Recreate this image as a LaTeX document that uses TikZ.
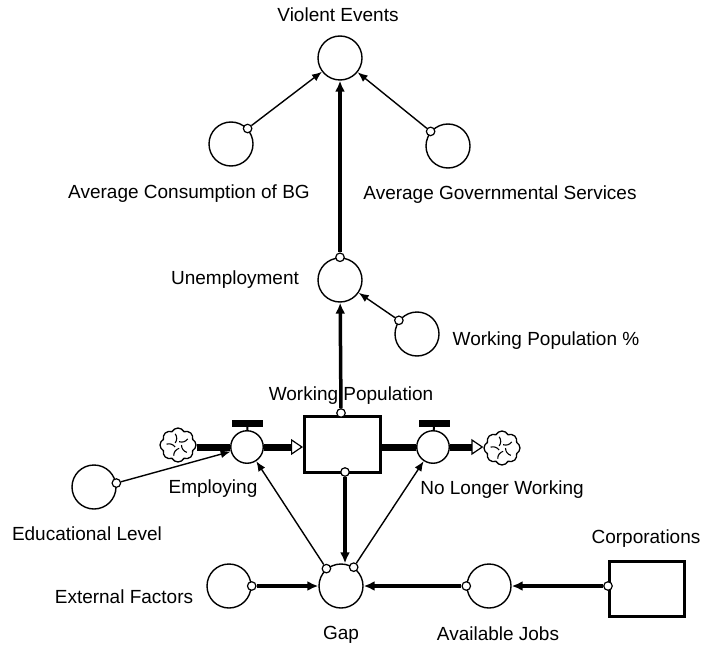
\documentclass[tikz,border=0pt]{standalone}
\usepackage{fontspec}
\setmainfont{Liberation Sans}
\usetikzlibrary{arrows.meta,shapes.symbols,calc}
\begin{document}
\begin{tikzpicture}[x=1pt,y=-1pt,
  conv/.style={circle,draw,line width=1.4pt,minimum size=44pt,inner sep=0pt},
  valvec/.style={circle,draw,line width=1.4pt,minimum size=32.5pt,inner sep=0pt,fill=white},
  valvebar/.style={fill=black,minimum width=31pt,minimum height=7pt,inner sep=0pt},
  stockbox/.style={draw,line width=3pt,inner sep=0pt,fill=white},
  lbl/.style={font=\fontsize{19}{23}\selectfont,anchor=base,inner sep=0pt},
  portc/.style={circle,draw,line width=1.2pt,fill=white,minimum size=8.5pt,inner sep=0pt},
  infolink/.style={line width=1.4pt,-{Latex[length=10pt,width=8pt]}},
  tlink/.style={line width=3.5pt,-{Latex[length=11pt,width=10pt]}},
  pipeline/.style={line width=7pt},
  pipearrow/.style={line width=7pt,-{Triangle[open,length=12pt,width=16pt,line width=1.2pt]}},
  cloudn/.style={cloud,cloud puffs=8,cloud puff arc=125,aspect=1,draw,line width=1.3pt,minimum width=36pt,minimum height=34pt,inner sep=0pt,fill=white},
]
\useasboundingbox (0,0) rectangle (706,647);

% converters
\node[conv] (ve) at (340,58) {};
\node[conv] (ac) at (231,144) {};
\node[conv] (ag) at (448,146) {};
\node[conv] (un) at (340,280) {};
\node[conv] (wpp) at (417,334) {};
\node[conv] (edu) at (94,487) {};
\node[conv] (ex) at (229,586) {};
\node[conv] (gap) at (341,586) {};
\node[conv] (aj) at (489,586) {};

% stocks
\node[stockbox,minimum width=76pt,minimum height=56pt] (wp) at (342.5,444.5) {};
\node[stockbox,minimum width=75pt,minimum height=55pt] (corp) at (647,589) {};

% clouds
\node[cloudn] (cl) at (178,445) {};
\node[cloudn] (cr) at (502,448) {};
\foreach \c in {cl,cr}{
  \foreach \a in {0,72,...,288}{
    \draw[line width=1.1pt] ($(\c)+(\a:3.5)$) to[bend right=35] ($(\c)+(\a+40:11.5)$);
  }
}

% valves
\node[valvec] (empv) at (247,447) {};
\node[valvec] (nlwv) at (433,447) {};
\node[valvebar] (empb) at (247.5,423) {};
\node[valvebar] (nlwb) at (434,423.5) {};
\draw[line width=2pt] (empb) -- (empv);
\draw[line width=2pt] (nlwb) -- (nlwv);

% pipes
\draw[pipeline] (empv.west -| cl.east) -- (empv.west);
\draw[pipearrow] (empv.east) -- (empv.east -| wp.west);
\draw[pipeline] (nlwv.west -| wp.east) -- (nlwv.west);
\draw[pipearrow] (nlwv.east) -- (nlwv.east -| cr.west);

% ports
\node[portc] (acp) at (ac.43) {};
\node[portc] (agp) at (ag.140) {};
\node[portc] (unp) at (un.90) {};
\node[portc] (wppp) at (wpp.143) {};
\node[portc] (edup) at (edu.10) {};
\node[portc] (wpt) at ([xshift=-1.5pt,yshift=2pt]wp.north) {};
\node[portc] (wpb) at ([xshift=2.5pt,yshift=2pt]wp.south) {};
\node[portc] (gapl) at (gap.130) {};
\node[portc] (gapr) at (gap.56) {};
\node[portc] (exp) at (ex.east) {};
\node[portc] (ajp) at (aj.west) {};
\node[portc] (corpp) at ([yshift=3pt]corp.west) {};

% connectors
\draw[infolink] (acp) -- (ve);
\draw[infolink] (agp) -- (ve);
\draw[tlink] (unp) -- (ve);
\draw[tlink] (wpt) -- (un);
\draw[infolink] (wppp) -- (un);
\draw[infolink] (edup) -- (empv);
\draw[infolink] (gapl) -- (empv);
\draw[infolink] (gapr) -- (nlwv);
\draw[tlink] (wpb) -- (wpb |- gap.north);
\draw[tlink] (exp) -- (gap);
\draw[tlink] (ajp) -- (gap);
\draw[tlink] (corpp) -- (aj);

% labels
\node[lbl] (vel) at (338,22) {Violent Events};
\node[lbl] (acl) at (189,198) {Average Consumption of BG};
\node[lbl] (agl) at (500,200) {Average Governmental Services};
\node[lbl] (unl) at (235,284) {Unemployment};
\node[lbl] (wppl) at (546,345) {Working Population \%};
\node[lbl] (wpl) at (351,400) {Working Population};
\node[lbl] (empl) at (213,493) {Employing};
\node[lbl] (nlwl) at (502,494) {No Longer Working};
\node[lbl] (edul) at (87,540) {Educational Level};
\node[lbl] (corpl) at (646,543) {Corporations};
\node[lbl] (exl) at (124,603) {External Factors};
\node[lbl] (gapll) at (341,639) {Gap};
\node[lbl] (ajl) at (498,640) {Available Jobs};
\end{tikzpicture}
\end{document}
